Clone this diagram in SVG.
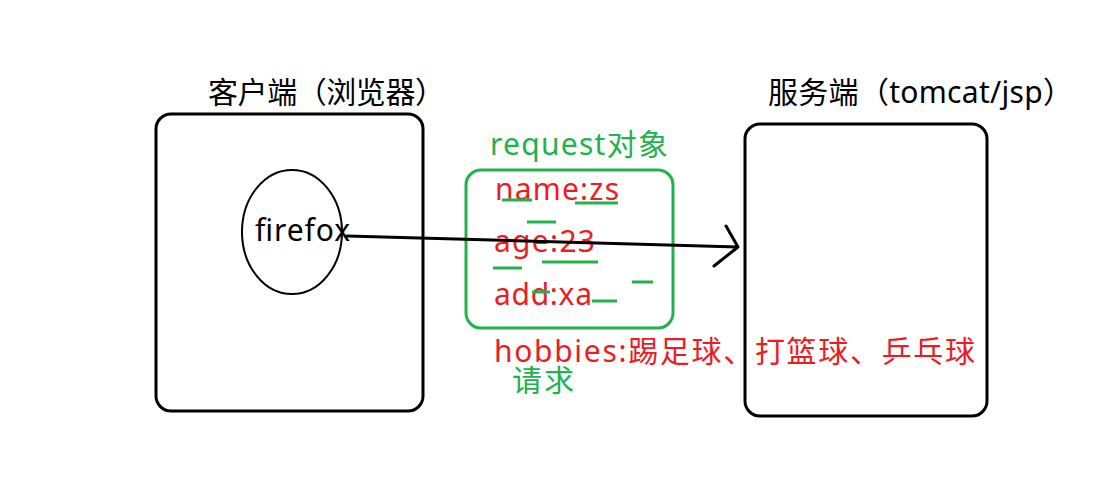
<svg xmlns="http://www.w3.org/2000/svg" width="1113" height="487" viewBox="0 0 1113 487">
<style>
text{font-family:"Noto Sans","Noto Sans CJK SC",sans-serif;font-size:30px}
.k{fill:#000}
.r{fill:#ed1c24}
.g{fill:#22b14c}
.box{fill:none;stroke:#000;stroke-width:3}
.gl{stroke:#22b14c;stroke-width:3;fill:none}
</style>
<rect width="1113" height="487" fill="#fff"/>
<g id="client">
<rect class="box" x="156" y="114" width="267" height="297" rx="15"/>
<text class="k" x="208" y="103" textLength="237">客户端（浏览器）</text>
</g>
<g id="firefox">
<ellipse cx="292" cy="232" rx="50" ry="62" fill="none" stroke="#000" stroke-width="2"/>
<text class="k" x="255" y="241" textLength="95">firefox</text>
</g>
<g id="server">
<rect class="box" x="745" y="124" width="242" height="292" rx="15"/>
<text class="k" x="768" y="103" textLength="305">服务端（tomcat/jsp）</text>
</g>
<g id="request">
<rect class="gl" x="466" y="170" width="207" height="158" rx="15"/>
<text class="g" x="490" y="155" textLength="178">request对象</text>
<text class="r" x="495" y="200" textLength="124">name:zs</text>
<text class="r" x="494" y="252" textLength="101">age:23</text>
<text class="r" x="494" y="305" textLength="98">add:xa</text>
<text class="r" x="494" y="362" textLength="481">hobbies:踢足球、打篮球、乒乓球</text>
<text class="g" x="512" y="391" textLength="62">请求</text>
<path class="gl" d="M502 200H532M575 203H618M527 222H556M542 262H598M493 268H522M632 282H653M532 292H550M592 301H617"/>
</g>
<g id="connectors">
<path d="M347 236L738 247M726 226L738 247L714 266" fill="none" stroke="#000" stroke-width="3" stroke-linecap="round" stroke-linejoin="round"/>
</g>
</svg>
